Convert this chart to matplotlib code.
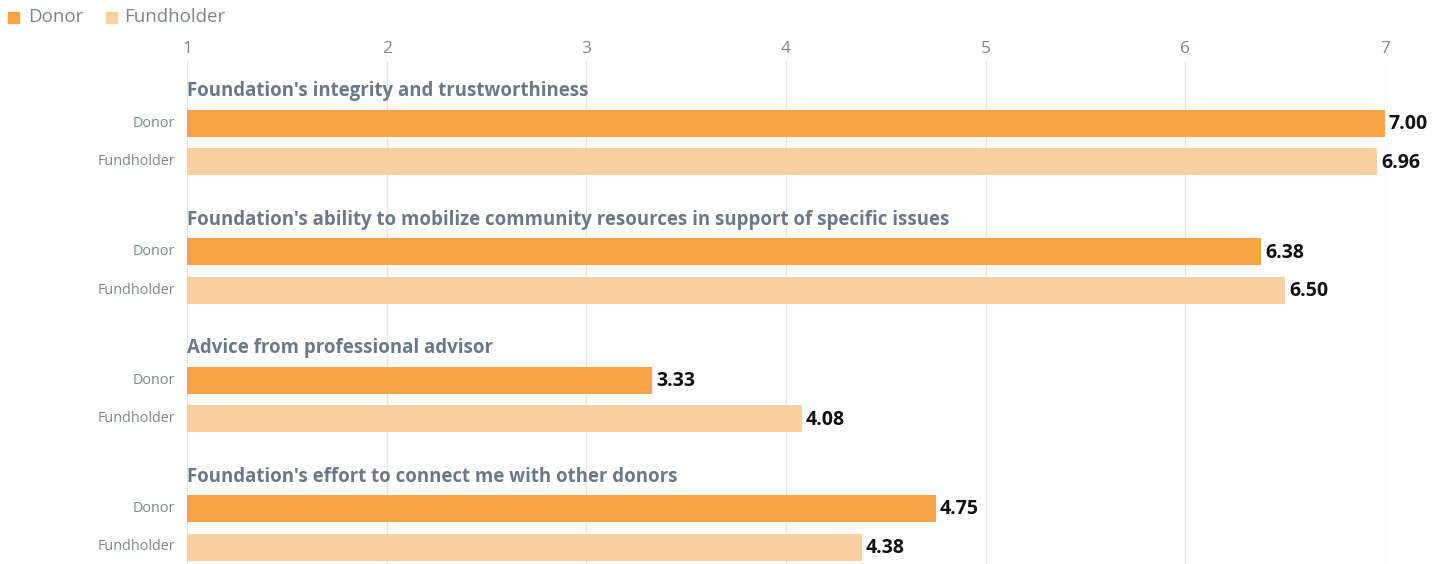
import matplotlib
matplotlib.use('Agg')
import matplotlib.pyplot as plt
from matplotlib.patches import Rectangle

plt.rcParams['font.family'] = ['Open Sans', 'DejaVu Sans']

questions = [
    "Foundation's integrity and trustworthiness",
    "Foundation's ability to mobilize community resources in support of specific issues",
    "Advice from professional advisor",
    "Foundation's effort to connect me with other donors",
]
series = ['Donor', 'Fundholder']
donor = [7.00, 6.38, 3.33, 4.75]
fundholder = [6.96, 6.50, 4.08, 4.38]
ticks = [1, 2, 3, 4, 5, 6, 7]

c_donor = '#f7a446'
c_fund = '#f9d0a0'
c_title = '#6b7888'
c_label = '#7d8590'

W, H = 1445, 564
fig = plt.figure(figsize=(W / 100, H / 100), dpi=100)
# axes spans the plot area in pixel rows, value axis from 1 to 7
top = 61
x0, x1 = 187, 1385
ax = fig.add_axes([x0 / W, 0, (x1 - x0) / W, (H - top) / H])
ax.set_xlim(1, 7)
ax.set_ylim(H, top)
for s in ax.spines.values():
    s.set_visible(False)
ax.set_yticks([])
ax.set_xticks(ticks)
ax.xaxis.tick_top()
ax.tick_params(axis='x', length=0, pad=3, labelsize=12.5, labelcolor='#7f8891')
ax.grid(axis='x', color='#e4e7ea', linewidth=1)
ax.set_axisbelow(True)

step = 128.5
bar_h = 27
lab_x = -12 / (x1 - x0)
for g, q in enumerate(questions):
    y0 = 123 + g * step
    ax.text(1, y0 - 32, q, fontsize=13.4, fontweight='bold', color=c_title,
            va='center', ha='left')
    for k, (vals, col) in enumerate([(donor, c_donor), (fundholder, c_fund)]):
        yc = y0 + k * 38.5
        ax.barh(yc, vals[g] - 1, left=1, height=bar_h, color=col)
        ax.text(vals[g] + 0.02, yc + 1, f'{vals[g]:.2f}', fontsize=14,
                fontweight='bold', color='#111111', va='center', ha='left',
                clip_on=False)
        ax.text(lab_x, yc, series[k], fontsize=10.4, color=c_label,
                va='center', ha='right', transform=ax.get_yaxis_transform())

# legend across the top left
for x_sq, x_txt, name, col in [(8, 28, 'Donor', c_donor), (106, 124, 'Fundholder', c_fund)]:
    fig.patches.append(Rectangle((x_sq / W, 1 - 23 / H), 11 / W, 11 / H,
                                 transform=fig.transFigure, color=col))
    fig.text(x_txt / W, 1 - 17.5 / H, name, fontsize=13.5, color=c_label,
             va='center', ha='left')

fig.savefig('out.png', dpi=100)
